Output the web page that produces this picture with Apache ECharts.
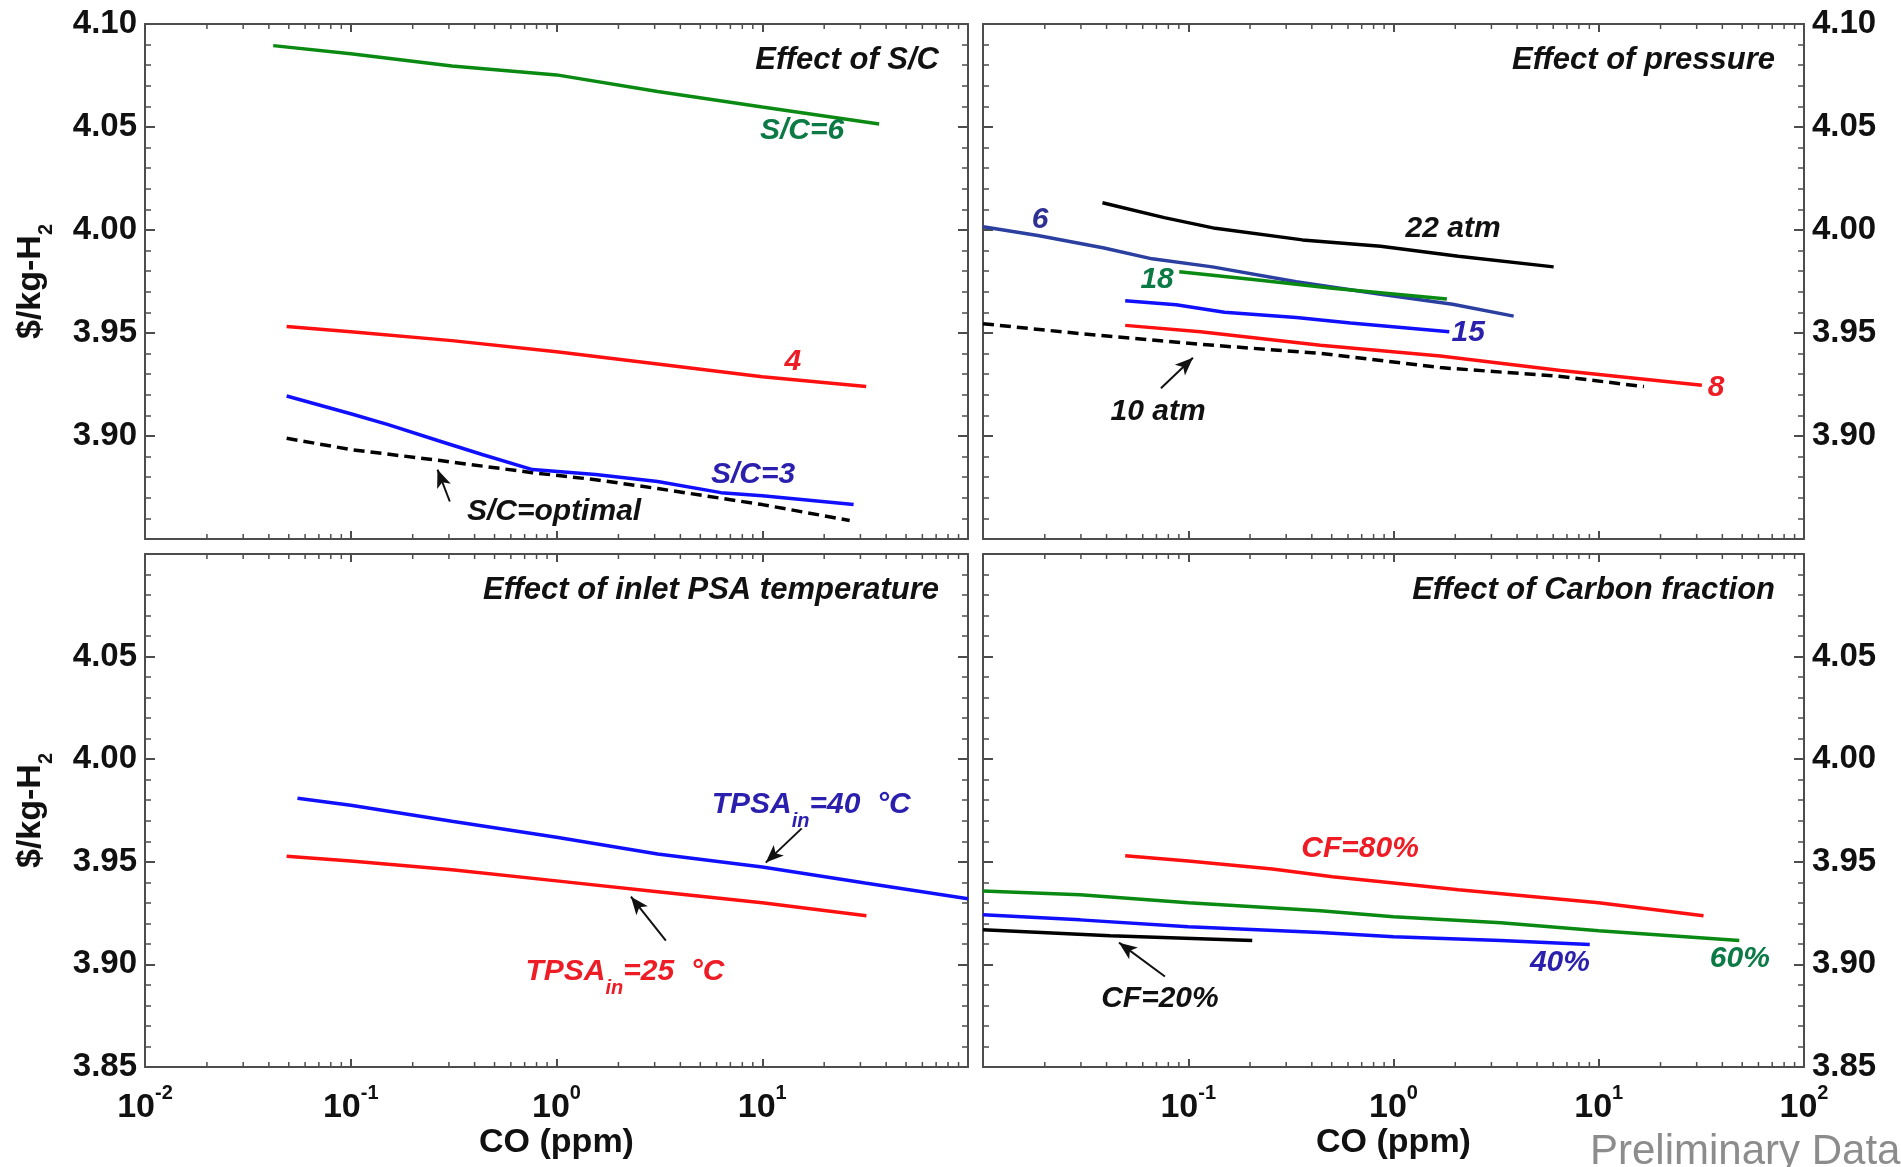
<!DOCTYPE html>
<html>
<head>
<meta charset="utf-8">
<script src="https://cdn.jsdelivr.net/npm/echarts@6.0.0/dist/echarts.min.js"></script>
<style>
html, body { margin: 0; padding: 0; background: #fff; }
#main { width: 1901px; height: 1167px; }
</style>
</head>
<body>
<div id="main"></div>
<script>
var FONT = 'Arial, "Liberation Sans", Helvetica, sans-serif';
var FRAME = '#4d4d4d';

// ---- Effect of S/C  (CO ppm, $/kg-H2)
var scOptimal = [[0.0488,3.8989],[0.1,3.8934],[0.267,3.8882],[0.764,3.8822],[1.55,3.8788],[3.1,3.8745],[10,3.8667],[26.6,3.859]];
var sc3 = [[0.0488,3.9194],[0.1,3.9108],[0.152,3.9055],[0.267,3.8977],[0.435,3.891],[0.764,3.8837],[1.55,3.8813],[3.1,3.8779],[6.3,3.8725],[10,3.871],[27.8,3.8667]];
var sc4 = [[0.0488,3.9531],[0.1,3.9506],[0.31,3.9463],[1,3.9409],[3.1,3.935],[10,3.9288],[32,3.924]];
var sc6 = [[0.042,4.0895],[0.1,4.0856],[0.31,4.0796],[1,4.0753],[3.1,4.0672],[10,4.0597],[37,4.0515]];

// ---- Effect of pressure
var p10 = [[0.01,3.9545],[0.0297,3.9497],[0.1146,3.9445],[0.44,3.9401],[1.69,3.9332],[6.53,3.9289],[16.6,3.924]];
var p8 = [[0.0493,3.9537],[0.1146,3.9506],[0.44,3.944],[1.69,3.9388],[6.53,3.9318],[31.8,3.9246]];
var p15 = [[0.0493,3.9657],[0.0873,3.9637],[0.15,3.9601],[0.336,3.9575],[0.617,3.9549],[1.87,3.9506]];
var p6 = [[0.01,4.0016],[0.0185,3.9973],[0.0389,3.9913],[0.0667,3.986],[0.131,3.9821],[0.336,3.9749],[0.865,3.9688],[1.94,3.964],[3.85,3.9582]];
var p18 = [[0.0904,3.9797],[0.224,3.9756],[0.504,3.9717],[1.82,3.9665]];
var p22 = [[0.0382,4.0132],[0.0764,4.006],[0.1355,4.0008],[0.36,3.9952],[0.865,3.9921],[2.07,3.9873],[6.03,3.9821]];

// ---- Effect of inlet PSA temperature
var t25 = [[0.0488,3.9527],[0.1,3.9504],[0.31,3.9461],[1,3.9407],[3.1,3.9354],[10,3.93],[32.1,3.9237]];
var t40 = [[0.0551,3.981],[0.1,3.9776],[0.31,3.9698],[1,3.962],[3.1,3.9538],[10,3.9475],[31.6,3.9397],[100,3.932]];

// ---- Effect of Carbon fraction
var cf20 = [[0.01,3.9169],[0.0417,3.914],[0.205,3.9116]];
var cf40 = [[0.01,3.9242],[0.0297,3.9217],[0.1,3.9184],[0.44,3.9155],[1,3.9135],[3.33,3.9116],[9.04,3.9097]];
var cf60 = [[0.01,3.9358],[0.0297,3.9339],[0.1,3.93],[0.44,3.9261],[1,3.9232],[3.33,3.9203],[10,3.9164],[48.4,3.9116]];
var cf80 = [[0.0493,3.9529],[0.1,3.9504],[0.257,3.9465],[0.504,3.9427],[1,3.9397],[2.07,3.9364],[4.99,3.9329],[10,3.93],[32.4,3.9237]];

var xExp = [-2, -1, 0, 1, 2];
var yMin = 3.85, yMax = 4.10, yStep = 0.05;

var GREEN = '#0a8a12', GREEN_T = '#0b7a45';
var RED = '#ff1010', RED_T = '#ee1c25';
var BLUE = '#1010ff', BLUE_T = '#2b1fae';
var NAVY = '#2a3f9f', NAVY_T = '#2e3192';
var BLACK = '#000000', BLACK_T = '#111111';

var panels = [
  { title: 'Effect of S/C', lines: [
    { d: scOptimal, c: BLACK, dash: true }, { d: sc3, c: BLUE }, { d: sc4, c: RED }, { d: sc6, c: GREEN } ] },
  { title: 'Effect of pressure', lines: [
    { d: p10, c: BLACK, dash: true }, { d: p8, c: RED }, { d: p15, c: BLUE }, { d: p6, c: NAVY }, { d: p18, c: GREEN }, { d: p22, c: BLACK } ] },
  { title: 'Effect of inlet PSA temperature', lines: [
    { d: t25, c: RED }, { d: t40, c: BLUE } ] },
  { title: 'Effect of Carbon fraction', lines: [
    { d: cf20, c: BLACK }, { d: cf40, c: BLUE }, { d: cf60, c: GREEN }, { d: cf80, c: RED } ] }
];

var grids = [
  { left: 145, top: 24, width: 823, height: 515 },
  { left: 983, top: 24, width: 821, height: 515 },
  { left: 145, top: 554, width: 823, height: 513 },
  { left: 983, top: 554, width: 821, height: 513 }
];

var notes = [
  { g: 0, at: [15.6, 4.0481], text: 'S/C=6', color: GREEN_T },
  { g: 0, at: [14.1, 3.936], text: '4', color: RED_T },
  { g: 0, at: [9.02, 3.8813], text: 'S/C=3', color: BLUE_T },
  { g: 0, at: [0.973, 3.8633], text: 'S/C=optimal', color: BLACK_T },
  { g: 1, at: [0.019, 4.0049], text: '6', color: NAVY_T },
  { g: 1, at: [1.95, 4.0006], text: '22 atm', color: BLACK_T },
  { g: 1, at: [0.0705, 3.9758], text: '18', color: GREEN_T },
  { g: 1, at: [2.31, 3.9501], text: '15', color: BLUE_T },
  { g: 1, at: [37.3, 3.9235], text: '8', color: RED_T },
  { g: 1, at: [0.0713, 3.9118], text: '10 atm', color: BLACK_T },
  { g: 2, at: [17.3, 3.977], text: '{m|TPSA}{s|in}{m|=40  \u00B0C}', color: BLUE_T },
  { g: 2, at: [2.15, 3.8956], text: '{m|TPSA}{s|in}{m|=25  \u00B0C}', color: RED_T },
  { g: 3, at: [0.687, 3.9562], text: 'CF=80%', color: RED_T },
  { g: 3, at: [48.7, 3.9029], text: '60%', color: GREEN_T },
  { g: 3, at: [6.47, 3.9009], text: '40%', color: BLUE_T },
  { g: 3, at: [0.0728, 3.8835], text: 'CF=20%', color: BLACK_T }
];

var arrows = [
  { g: 0, from: [0.303, 3.8682], to: [0.264, 3.8837] },
  { g: 1, from: [0.0736, 3.9232], to: [0.1054, 3.938] },
  { g: 2, from: [15.56, 3.9663], to: [10.4, 3.9496] },
  { g: 2, from: [3.4, 3.9116], to: [2.3, 3.933] },
  { g: 3, from: [0.077, 3.8941], to: [0.046, 3.9106] }
];

// log minor ticks 2..9 per decade
var minorX = [];
xExp.slice(0, 4).forEach(function (e) {
  for (var m = 2; m <= 9; m++) minorX.push([m * Math.pow(10, e), yMin]);
});

function minorTickItem(params, api) {
  var cs = params.coordSys;
  var px = api.coord([api.value(0), yMin])[0];
  var st = { stroke: FRAME, lineWidth: 1.5 };
  return {
    type: 'group',
    children: [
      { type: 'line', shape: { x1: px, y1: cs.y + cs.height, x2: px, y2: cs.y + cs.height - 5 }, style: st },
      { type: 'line', shape: { x1: px, y1: cs.y, x2: px, y2: cs.y + 5 }, style: st }
    ]
  };
}

var xAxes = [], yAxes = [], series = [];

grids.forEach(function (gr, g) {
  var bottomRow = g >= 2;
  var rightCol = g % 2 == 1;
  var hideExp = rightCol ? -2 : 2;
  var lineStyle = { color: FRAME, width: 2 };

  var xBase = {
    type: 'log', logBase: 10, gridIndex: g, min: 0.01, max: 100, splitNumber: 4,
    axisLine: { show: true, onZero: false, lineStyle: lineStyle },
    axisTick: { show: true, inside: true, length: 8, lineStyle: lineStyle },
    splitLine: { show: false }
  };
  xAxes.push(Object.assign({}, xBase, {
    position: 'bottom',
    axisLabel: {
      show: bottomRow, margin: 16,
      formatter: function (v) {
        var e = Math.round(Math.log(v) / Math.LN10);
        if (e == hideExp) return '';
        return '{b|10}{s|' + e + '}';
      },
      rich: {
        b: { fontFamily: FONT, fontWeight: 'bold', fontSize: 34, color: BLACK_T, verticalAlign: 'top', lineHeight: 34, padding: [8, 0, 0, 0] },
        s: { fontFamily: FONT, fontWeight: 'bold', fontSize: 20, color: BLACK_T, verticalAlign: 'top', lineHeight: 20 }
      }
    },
    name: bottomRow ? 'CO (ppm)' : '',
    nameLocation: 'middle', nameGap: 58,
    nameTextStyle: { fontFamily: FONT, fontWeight: 'bold', fontSize: 34, color: BLACK_T }
  }));
  xAxes.push(Object.assign({}, xBase, { position: 'top', axisLabel: { show: false } }));

  function yLab(v) {
    if (!bottomRow && v < yMin + 0.01) return '';
    if (bottomRow && v > yMax - 0.01) return '';
    return v.toFixed(2);
  }
  var yBase = {
    type: 'value', gridIndex: g, min: yMin, max: yMax, interval: yStep,
    axisLine: { show: true, onZero: false, lineStyle: lineStyle },
    axisTick: { show: true, inside: true, length: 10, lineStyle: lineStyle },
    minorTick: { show: true, splitNumber: 5, length: 6, lineStyle: { color: FRAME, width: 1.5 } },
    splitLine: { show: false }
  };
  var labStyle = { formatter: yLab, margin: 8, fontFamily: FONT, fontWeight: 'bold', fontSize: 33, color: BLACK_T };
  yAxes.push(Object.assign({}, yBase, {
    position: 'left',
    axisLabel: Object.assign({ show: !rightCol }, labStyle),
    name: rightCol ? '' : '{a|$/kg-H}{s|2}',
    nameLocation: 'middle', nameGap: 95,
    nameTextStyle: {
      rich: {
        a: { fontFamily: FONT, fontWeight: 'bold', fontSize: 34, color: BLACK_T, verticalAlign: 'top', lineHeight: 36 },
        s: { fontFamily: FONT, fontWeight: 'bold', fontSize: 20, color: BLACK_T, verticalAlign: 'top', lineHeight: 20, padding: [22, 0, 0, 0] }
      }
    }
  }));
  yAxes.push(Object.assign({}, yBase, {
    position: 'right',
    axisLabel: Object.assign({ show: rightCol }, labStyle)
  }));

  var first = series.length;
  panels[g].lines.forEach(function (ln) {
    series.push({
      type: 'line', xAxisIndex: 2 * g, yAxisIndex: 2 * g, data: ln.d,
      showSymbol: false, symbol: 'none', smooth: false, silent: true,
      lineStyle: { color: ln.c, width: 3.5, type: ln.dash ? [11, 6] : 'solid' }
    });
  });
  var marks = arrows.filter(function (a) { return a.g == g; }).map(function (a) {
    return [{ coord: a.from }, { coord: a.to }];
  });
  if (marks.length) {
    series[first].markLine = {
      silent: true, symbol: ['none', 'arrow'], symbolSize: [11, 18],
      label: { show: false },
      lineStyle: { color: BLACK_T, width: 2, type: 'solid' },
      data: marks
    };
  }
  series.push({
    type: 'custom', xAxisIndex: 2 * g, yAxisIndex: 2 * g, data: minorX,
    renderItem: minorTickItem, silent: true, clip: false, z: 3
  });
});

var chart = echarts.init(document.getElementById('main'));
chart.setOption({
  animation: false,
  backgroundColor: '#ffffff',
  grid: grids,
  xAxis: xAxes,
  yAxis: yAxes,
  series: series
});

// panel titles and curve labels placed through the axes
var graphics = [];
panels.forEach(function (p, g) {
  var gr = grids[g];
  graphics.push({
    type: 'text', silent: true, z: 10,
    style: {
      x: gr.left + gr.width - 29, y: gr.top + 36, text: p.title,
      align: 'right', verticalAlign: 'middle',
      font: 'italic bold 31px ' + FONT, fill: BLACK_T
    }
  });
});
notes.forEach(function (n) {
  var pt = chart.convertToPixel({ xAxisIndex: 2 * n.g, yAxisIndex: 2 * n.g }, n.at);
  graphics.push({
    type: 'text', silent: true, z: 10,
    style: {
      x: pt[0], y: pt[1], text: n.text, align: 'center', verticalAlign: 'middle',
      font: 'italic bold 30px ' + FONT, fill: n.color,
      rich: {
        m: { font: 'italic bold 30px ' + FONT, fill: n.color, verticalAlign: 'top', lineHeight: 34 },
        s: { font: 'italic bold 20px ' + FONT, fill: n.color, verticalAlign: 'top', lineHeight: 20, padding: [22, 0, 0, 0] }
      }
    }
  });
});
graphics.push({
  type: 'text', silent: true,
  style: { x: 1590, y: 1131, text: 'Preliminary Data', verticalAlign: 'top', font: '42px ' + FONT, fill: '#8c8c8c' }
});
chart.setOption({ graphic: graphics });
</script>
</body>
</html>
